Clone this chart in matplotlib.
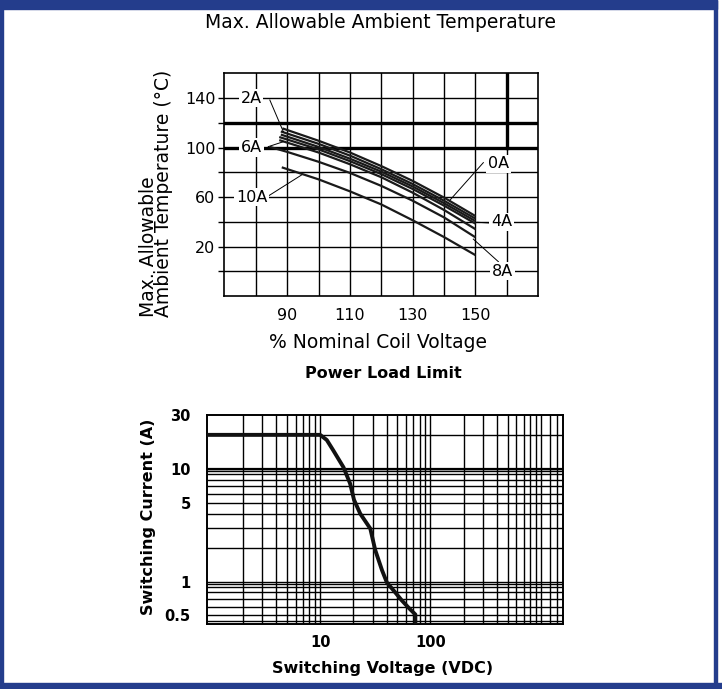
import matplotlib
matplotlib.use('Agg')
import matplotlib.pyplot as plt
from matplotlib.patches import Rectangle
from matplotlib.ticker import NullLocator

# ---- data: max allowable ambient temperature vs % nominal coil voltage
x_0a = [88.5, 100, 110, 120, 130, 140, 150]
t_0a = [115.5, 105.5, 96, 85, 73, 59.5, 44.6]
x_2a = [88, 100, 110, 120, 130, 140, 150]
t_2a = [113, 103, 93.5, 82.5, 70.5, 57, 42.5]
x_4a = [88, 100, 110, 120, 130, 140, 150]
t_4a = [110.5, 100.5, 91, 80.5, 68.5, 55, 40.5]
x_4b = [87.5, 100, 110, 120, 130, 140, 150]
t_4b = [108.5, 98.5, 89, 78.5, 66.5, 53, 38.5]
x_6a = [87.5, 100, 110, 120, 130, 140, 150]
t_6a = [106, 96, 86.5, 76, 63.5, 49.5, 34]
x_8a = [84.5, 90, 100, 110, 120, 130, 140, 150]
t_8a = [100.5, 96.5, 88.5, 79.5, 69, 57, 43.5, 27.4]
x_10a = [88.3, 100, 110, 120, 130, 140, 150]
t_10a = [84, 74.3, 64.6, 54, 41.2, 27.6, 13]

temp_ticks = [0, 20, 40, 60, 80, 100, 120, 140]
temp_labels = ['', '20', '', '60', '', '100', '', '140']
volt_ticks = [90, 110, 130, 150]

# ---- data: power load limit
sw_voltage = [0.95, 10, 11.5, 13.2, 16.3, 18.7, 20.3, 23.1, 28.5, 31.6,
              36.4, 40.3, 47, 55, 64, 73, 73]
sw_current = [20, 20, 18, 14.5, 10.3, 7.4, 5.3, 4.0, 2.95, 1.9,
              1.26, 0.98, 0.82, 0.68, 0.58, 0.51, 0.42]
cur_ticks = [0.5, 1, 5, 10, 30]
cur_labels = ['0.5', '1', '5', '10', '30']
v_ticks = [10, 100]

# grid positions of the log paper
v_grid = [2, 3, 4, 5, 6, 7, 8, 9, 10, 20, 30, 40, 50, 60, 70, 80, 90, 100,
          200, 300, 400, 500, 600, 700, 800, 900, 1000, 1200, 1400]
i_grid = [0.45, 0.5, 0.6, 0.7, 0.8, 0.9, 0.95, 1, 2, 3, 4, 5, 6, 7, 8, 9,
          9.5, 10, 20]

plt.rcParams['font.family'] = ['DejaVu Sans']

W, H = 722, 689
fig = plt.figure(figsize=(W / 100, H / 100), dpi=100)

# blue frame
blue = '#243d8c'
fig.patches.append(Rectangle((0, 1 - 9 / H), 717 / W, 9 / H, transform=fig.transFigure, color=blue))
fig.patches.append(Rectangle((0, 0), 1, 6 / H, transform=fig.transFigure, color=blue))
fig.patches.append(Rectangle((0, 0), 3 / W, 1, transform=fig.transFigure, color=blue))
fig.patches.append(Rectangle((714 / W, 0), 3 / W, 1, transform=fig.transFigure, color=blue))

# ---------------- top chart
ax1 = fig.add_axes([224.3 / W, 1 - 296 / H, 314 / W, 222.7 / H])
ax1.set_xlim(70, 170)
ax1.set_ylim(-20, 160)
for gx in range(80, 170, 10):
    ax1.axvline(gx, color='k', lw=1.0, zorder=1)
for gy in range(0, 160, 20):
    ax1.axhline(gy, color='k', lw=1.0, zorder=1)
ax1.axhline(120, color='k', lw=2.4, zorder=1)
ax1.axhline(100, color='k', lw=2.4, zorder=1)
ax1.plot([160, 160], [100, 160], color='k', lw=2.4, zorder=1)

for xs, ts in [(x_0a, t_0a), (x_2a, t_2a), (x_4a, t_4a), (x_4b, t_4b),
               (x_6a, t_6a), (x_8a, t_8a), (x_10a, t_10a)]:
    ax1.plot(xs, ts, color='#1a1a1a', lw=1.6, zorder=3, solid_capstyle='butt')

box = dict(facecolor='white', edgecolor='none', pad=1.2)
lbl = dict(fontsize=11.5, ha='center', va='center', bbox=box, zorder=5)
ax1.text(78.5, 140, '2A', **lbl)
ax1.text(78.7, 100, '6A', **lbl)
ax1.text(78.7, 60, '10A', **lbl)
ax1.text(157.3, 87, '0A', **lbl)
ax1.text(158.3, 40, '4A', **lbl)
ax1.text(158.6, 0, '8A', **lbl)
lead = dict(color='k', lw=0.7, zorder=4)
ax1.plot([84.5, 88.8], [138.4, 112.8], **lead)
ax1.plot([84.0, 88.8], [100.7, 104.7], **lead)
ax1.plot([83.5, 94.6], [60, 77.8], **lead)
ax1.plot([152.5, 141.9], [87.8, 57.6], **lead)
ax1.plot([154.6, 150.5], [39, 39.6], **lead)
ax1.plot([157.3, 149.3], [7.7, 26], **lead)

ax1.set_yticks(temp_ticks)
ax1.set_yticklabels(temp_labels)
ax1.set_xticks(volt_ticks)
ax1.tick_params(axis='y', direction='out', length=4.5, width=1.0, pad=2, labelsize=11.5)
ax1.tick_params(axis='x', length=0, pad=9, labelsize=11.5)
for s in ax1.spines.values():
    s.set_linewidth(1.2)

fig.text(156 / W, 1 - 317 / H, 'Max. Allowable\nAmbient Temperature (°C)', rotation=90,
         ha='center', va='bottom', multialignment='left', fontsize=13.5, linespacing=0.78)
fig.text(378 / W, 1 - 343 / H, '% Nominal Coil Voltage', ha='center', va='center', fontsize=13.5)
fig.text(381 / W, 1 - 22 / H, 'Max. Allowable Ambient Temperature', ha='center', va='center',
         fontsize=13.5)
fig.text(383 / W, 1 - 374 / H, 'Power Load Limit', ha='center', va='center', fontsize=11.5,
         fontweight='bold')

# ---------------- bottom chart
ax2 = fig.add_axes([207.3 / W, 1 - 624 / H, 356 / W, 209 / H])
ax2.set_xscale('log')
ax2.set_yscale('log')
ax2.set_xlim(0.95, 1600)
ax2.set_ylim(0.42, 30)
for gv in v_grid:
    ax2.axvline(gv, color='k', lw=1.0, zorder=1)
for gi in i_grid:
    ax2.axhline(gi, color='k', lw=1.0, zorder=1)
ax2.axhline(10, color='k', lw=1.6, zorder=1)
ax2.plot(sw_voltage, sw_current, color='#111111', lw=2.8, zorder=3)

ax2.xaxis.set_minor_locator(NullLocator())
ax2.yaxis.set_minor_locator(NullLocator())
ax2.set_xticks(v_ticks)
ax2.set_xticklabels(['10', '100'])
ax2.set_yticks(cur_ticks)
ax2.set_yticklabels(cur_labels)
ax2.tick_params(axis='x', length=0, pad=8, labelsize=10.5)
ax2.tick_params(axis='y', length=0, pad=12, labelsize=10.5)
for t in ax2.get_xticklabels() + ax2.get_yticklabels():
    t.set_fontweight('bold')
for s in ax2.spines.values():
    s.set_linewidth(1.4)

fig.text(383 / W, 1 - 668 / H, 'Switching Voltage (VDC)', ha='center', va='center',
         fontsize=11.5, fontweight='bold')
fig.text(148 / W, 1 - 517 / H, 'Switching Current (A)', rotation=90, ha='center', va='center',
         fontsize=11.5, fontweight='bold')

fig.savefig('out.png', dpi=100)
